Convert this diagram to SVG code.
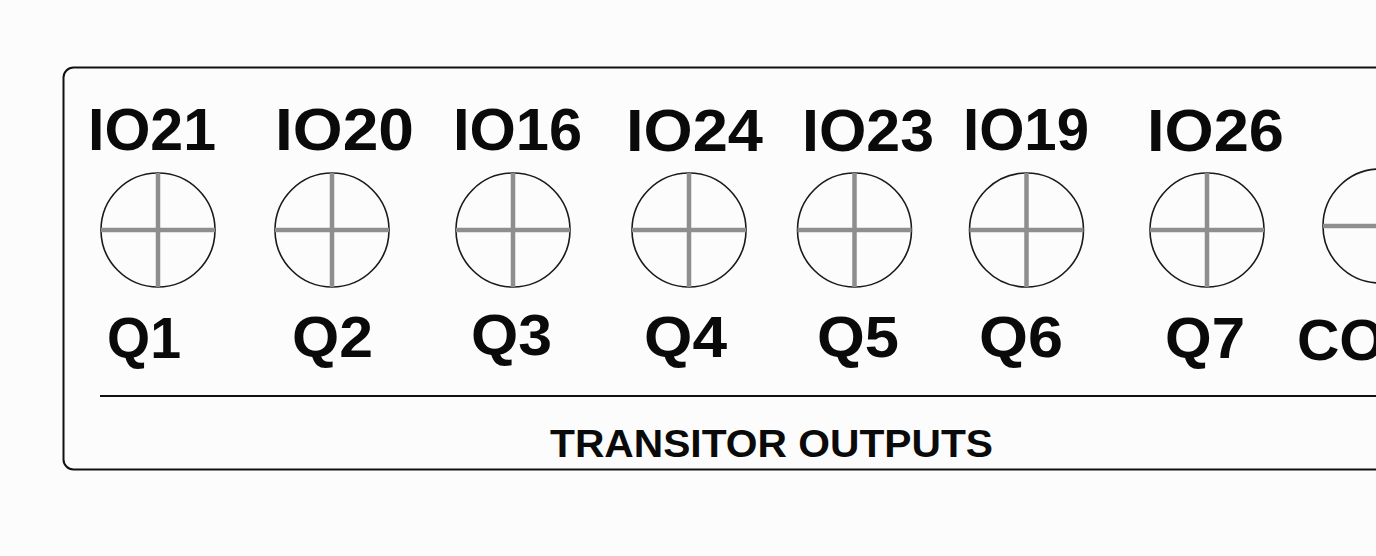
<svg xmlns="http://www.w3.org/2000/svg" width="1376" height="556" viewBox="0 0 1376 556">
<defs>
<style>
.frame{fill:none;stroke:#111;stroke-width:2}
.rule{stroke:#111;stroke-width:2}
.ring{fill:none;stroke:#1a1a1a;stroke-width:1.6}
.cross{stroke:#8e8e8e;stroke-width:4.5}
.io{font-family:"Liberation Sans",Arial,sans-serif;font-weight:bold;font-size:60px;fill:#0a0a0a;text-anchor:middle}
.q{font-family:"Liberation Sans",Arial,sans-serif;font-weight:bold;font-size:58px;fill:#0a0a0a;text-anchor:middle}
.title{font-family:"Liberation Sans",Arial,sans-serif;font-weight:bold;font-size:39px;fill:#0a0a0a}
</style>
<g id="term">
<circle class="ring" cx="0" cy="0" r="57"/>
<line class="cross" x1="-57" y1="0" x2="57" y2="0"/>
<line class="cross" x1="0" y1="-57" x2="0" y2="57"/>
</g>
</defs>
<rect width="1376" height="556" fill="#fcfcfc"/>
<g id="panel">
<rect class="frame" x="63.5" y="67.5" width="1400" height="402" rx="10" ry="10"/>
<line class="rule" x1="100" y1="396" x2="1376" y2="396"/>
<text class="title" x="550" y="457" textLength="443" lengthAdjust="spacingAndGlyphs">TRANSITOR OUTPUTS</text>
</g>
<g id="connectors"></g>
<g id="t1"><use href="#term" x="158" y="230"/><text class="io" x="152" y="150" textLength="128" lengthAdjust="spacingAndGlyphs">IO21</text><text class="q" x="144" y="358" textLength="74" lengthAdjust="spacingAndGlyphs">Q1</text></g>
<g id="t2"><use href="#term" x="332" y="230"/><text class="io" x="344.5" y="150" textLength="139" lengthAdjust="spacingAndGlyphs">IO20</text><text class="q" x="332.5" y="357" textLength="81" lengthAdjust="spacingAndGlyphs">Q2</text></g>
<g id="t3"><use href="#term" x="513" y="230"/><text class="io" x="517.5" y="150" textLength="129" lengthAdjust="spacingAndGlyphs">IO16</text><text class="q" x="511.5" y="355" textLength="81" lengthAdjust="spacingAndGlyphs">Q3</text></g>
<g id="t4"><use href="#term" x="689" y="230"/><text class="io" x="694.5" y="151" textLength="137" lengthAdjust="spacingAndGlyphs">IO24</text><text class="q" x="685.5" y="357" textLength="83" lengthAdjust="spacingAndGlyphs">Q4</text></g>
<g id="t5"><use href="#term" x="854.5" y="230"/><text class="io" x="868" y="151" textLength="132" lengthAdjust="spacingAndGlyphs">IO23</text><text class="q" x="858" y="357" textLength="82" lengthAdjust="spacingAndGlyphs">Q5</text></g>
<g id="t6"><use href="#term" x="1026.5" y="230"/><text class="io" x="1026" y="150" textLength="126" lengthAdjust="spacingAndGlyphs">IO19</text><text class="q" x="1021" y="357" textLength="84" lengthAdjust="spacingAndGlyphs">Q6</text></g>
<g id="t7"><use href="#term" x="1207" y="230"/><text class="io" x="1215.5" y="151" textLength="137" lengthAdjust="spacingAndGlyphs">IO26</text><text class="q" x="1205" y="358" textLength="80" lengthAdjust="spacingAndGlyphs">Q7</text></g>
<g id="t8"><use href="#term" x="1380" y="226"/><text class="q" x="1297" y="360" style="text-anchor:start" textLength="88" lengthAdjust="spacingAndGlyphs">CO</text></g>
</svg>
